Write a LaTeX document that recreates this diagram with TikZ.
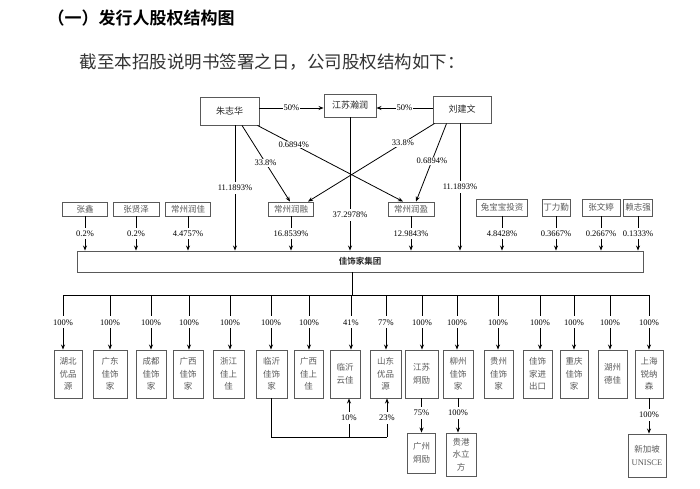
\documentclass[tikz,border=0pt]{standalone}
\usepackage{fontspec}
\setmainfont{Liberation Serif}
\newfontfamily\cjk{Noto Sans CJK SC}
\newfontfamily\cjkbold{Noto Sans CJK SC Bold}
\usetikzlibrary{arrows.meta}
\begin{document}
\begin{tikzpicture}[x=1pt,y=-1pt,
  bx/.style={draw=black!65, line width=0.9pt, inner sep=0pt, align=center,
    font=\cjk\fontsize{8.5}{12.5}\selectfont, text=black!65},
  topbx/.style={bx, text=black!85, font=\cjk\fontsize{9}{11}\selectfont},
  lbl/.style={fill=white, inner xsep=1pt, inner ysep=3pt, font=\fontsize{8.5}{10}\selectfont},
  arr/.style={line width=0.8pt, -{Stealth[length=5pt,width=4pt]}},
  ln/.style={line width=0.8pt}]
\useasboundingbox (0,0) rectangle (700,488);

% headings
\node[anchor=west, font=\cjkbold\fontsize{17}{17}\selectfont] (title) at (44,18) {（一）发行人股权结构图};
\node[anchor=west, font=\cjk\fontsize{17.5}{18}\selectfont, text=black!80] (intro) at (76,62) {截至本招股说明书签署之日，公司股权结构如下：};

% top holders
\node[topbx, minimum width=59pt, minimum height=28pt] (zhu) at (229.5,111) {朱志华};
\node[topbx, minimum width=52pt, minimum height=23pt] (js) at (350,105.5) {江苏瀚润};
\node[topbx, minimum width=58pt, minimum height=27pt] (liu) at (462,109.5) {刘建文};

% middle holders
\node[bx, minimum width=45pt, minimum height=14pt] (zx) at (85,209) {张鑫};
\node[bx, minimum width=46pt, minimum height=14pt] (zxz) at (136,209) {张贤泽};
\node[bx, minimum width=45pt, minimum height=14pt] (rj) at (188,209) {常州润佳};
\node[bx, minimum width=45pt, minimum height=14pt] (rr) at (291,209) {常州润融};
\node[bx, minimum width=46pt, minimum height=14pt] (ry) at (411,209) {常州润盈};
\node[bx, minimum width=51pt, minimum height=17pt] (tbb) at (502,207.5) {兔宝宝投资};
\node[bx, minimum width=28pt, minimum height=17pt] (dlq) at (556,207.5) {丁力勤};
\node[bx, minimum width=38pt, minimum height=17pt] (zwt) at (601,207.5) {张文婷};
\node[bx, minimum width=29pt, minimum height=17pt] (lzq) at (638,207.5) {赖志强};

% group
\node[bx, minimum width=566pt, minimum height=21pt, text=black!85, font=\cjkbold\fontsize{8.5}{10}\selectfont] (jt) at (360,261.5) {佳饰家集团};

% top connections
\draw[arr] ([yshift=3pt]zhu.east) -- node[lbl]{50\%} ([yshift=-2.5pt]js.west);
\draw[arr] ([yshift=1.5pt]liu.west) -- node[lbl]{50\%} ([yshift=-2.5pt]js.east);
\draw[arr] (js.south) -- node[lbl,pos=0.73]{37.2978\%} (js.south |- jt.north);

\coordinate (zv) at ([xshift=5.5pt]zhu.south);
\coordinate (lv) at ([xshift=-2pt]liu.south);
\draw[arr] (zv) -- node[lbl]{11.1893\%} (zv |- jt.north);
\draw[arr] (lv) -- node[lbl]{11.1893\%} (lv |- jt.north);

\coordinate (zs1) at ([xshift=12.5pt]zhu.south);
\coordinate (zs2) at ([xshift=-2pt]zhu.south east);
\coordinate (ls1) at ([xshift=2pt]liu.south west);
\coordinate (ls2) at ([xshift=14pt]liu.south west);
\coordinate (rt1) at ([xshift=-1pt]rr.north);
\coordinate (rt2) at ([xshift=17pt]rr.north);
\coordinate (yt1) at ([xshift=-8pt]ry.north);
\coordinate (yt2) at ([xshift=5pt]ry.north);
\draw[arr] (zs1) -- node[lbl,inner ysep=1pt,pos=0.49]{33.8\%} (rt1);
\draw[arr] (zs2) -- node[lbl,inner ysep=1pt,pos=0.25]{0.6894\%} (yt1);
\draw[arr] (ls1) -- node[lbl,inner ysep=1pt,pos=0.25]{33.8\%} (rt2);
\draw[arr] (ls2) -- node[lbl,inner ysep=1pt,pos=0.48]{0.6894\%} (yt2);

% middle to group
\draw[arr] (zx.south) -- node[lbl]{0.2\%} (zx.south |- jt.north);
\draw[arr] (zxz.south) -- node[lbl]{0.2\%} (zxz.south |- jt.north);
\draw[arr] (rj.south) -- node[lbl]{4.4757\%} (rj.south |- jt.north);
\draw[arr] (rr.south) -- node[lbl]{16.8539\%} (rr.south |- jt.north);
\draw[arr] (ry.south) -- node[lbl]{12.9843\%} (ry.south |- jt.north);
\draw[arr] (tbb.south) -- node[lbl]{4.8428\%} (tbb.south |- jt.north);
\draw[arr] (dlq.south) -- node[lbl]{0.3667\%} (dlq.south |- jt.north);
\draw[arr] (zwt.south) -- node[lbl]{0.2667\%} (zwt.south |- jt.north);
\draw[arr] (lzq.south) -- node[lbl]{0.1333\%} (lzq.south |- jt.north);

% subsidiaries
\coordinate (bt) at (352,295);
\draw[ln] (jt.south -| bt) -- (bt);
\foreach \n/\dx/\cx/\w/\p/\t in {
  1/63/68/28/100/{湖北\\优品\\源},
  2/110/110/34/100/{广东\\佳饰\\家},
  3/151/151/30/100/{成都\\佳饰\\家},
  4/189/188/30/100/{广西\\佳饰\\家},
  5/230/228.5/31/100/{浙江\\佳上\\佳},
  6/271/271.5/31/100/{临沂\\佳饰\\家},
  7/309/308.5/29/100/{广西\\佳上\\佳},
  8/351/345/30/41/{临沂\\云佳},
  9/386/385.5/31/77/{山东\\优品\\源},
  10/422/421.5/33/100/{江苏\\炯励},
  11/457/458/30/100/{柳州\\佳饰\\家},
  12/498/498.5/29/100/{贵州\\佳饰\\家},
  13/540/537.5/29/100/{佳饰\\家进\\出口},
  14/574/574/28/100/{重庆\\佳饰\\家},
  15/610/612.5/29/100/{湖州\\德佳},
  16/649/649/28/100/{上海\\锐纳\\森}}{
  \node[bx, minimum width=\w pt, minimum height=48pt] (c\n) at (\cx,374) {\t};
  \coordinate (d\n) at (\dx,295);
  \draw[arr] (d\n) -- node[lbl]{\p\%} (d\n |- c\n.north);
}
\draw[ln] (d1) -- (d16);

% bottom links
\coordinate (b2) at (349,437);
\coordinate (b3) at (387,437);
\draw[ln] (c6.south) |- (b3);
\draw[arr] (b2) -- node[lbl]{10\%} (b2 |- c8.south);
\draw[arr] (b3) -- node[lbl]{23\%} (b3 |- c9.south);

\node[bx, minimum width=28pt, minimum height=40pt] (g1) at (421.5,453) {广州\\炯励};
\node[bx, minimum width=30pt, minimum height=43pt] (g2) at (461,454.5) {贵港\\水立\\方};
\node[bx, minimum width=38pt, minimum height=43pt] (g3) at (647,455.5) {新加坡\\{\rmfamily UNISCE}};
\draw[arr] (c10.south) -- node[lbl,pos=0.43]{75\%} (c10.south |- g1.north);
\draw[arr] (c11.south) -- node[lbl,pos=0.43]{100\%} (c11.south |- g2.north);
\draw[arr] (c16.south) -- node[lbl,pos=0.47]{100\%} (c16.south |- g3.north);
\end{tikzpicture}
\end{document}
